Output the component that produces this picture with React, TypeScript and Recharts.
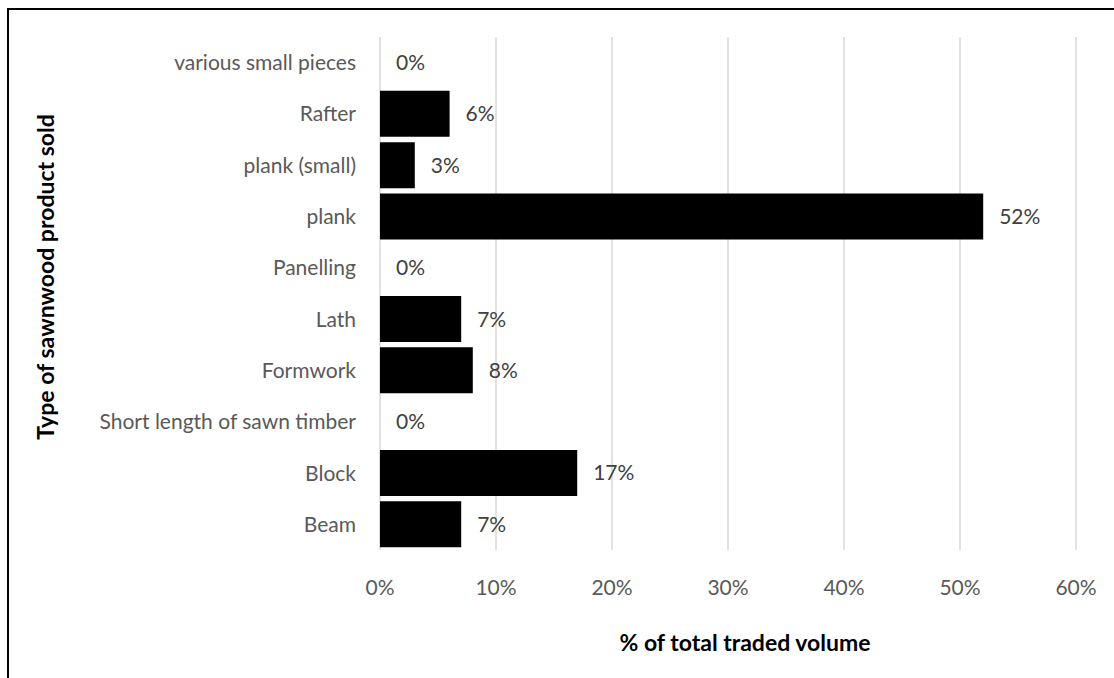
import { BarChart, Bar, XAxis, YAxis, CartesianGrid, LabelList } from "recharts";

const categories = [
  "various small pieces",
  "Rafter",
  "plank (small)",
  "plank",
  "Panelling",
  "Lath",
  "Formwork",
  "Short length of sawn timber",
  "Block",
  "Beam",
];
const shares = [0, 6, 3, 52, 0, 7, 8, 0, 17, 7];
const xTicks = [0, 10, 20, 30, 40, 50, 60];

const FONT = "Lato, 'Open Sans', sans-serif";

export default function App() {
  const data = categories.map((name, i) => ({ name, share: shares[i] }));

  return (
    <div style={{ position: "absolute", left: 0, top: 0, width: 1114, height: 678, overflow: "hidden", background: "#fff", fontFamily: FONT }}>
      <div style={{ position: "absolute", left: 7, top: 8, width: 1200, height: 800, borderLeft: "2px solid #000", borderTop: "2px solid #000" }} />
      <BarChart
        width={1114}
        height={678}
        data={data}
        layout="vertical"
        margin={{ top: 37, right: 38, bottom: 68, left: 10 }}
        barCategoryGap="5%"
      >
        <CartesianGrid horizontal={false} stroke="#d9d9d9" strokeWidth={1.5} />
        <XAxis
          type="number"
          domain={[0, 60]}
          ticks={xTicks}
          tickFormatter={(v) => `${v}%`}
          axisLine={false}
          tickLine={false}
          height={60}
          tickMargin={24}
          tick={{ fontSize: 21, fill: "#595959", fontFamily: FONT }}
        />
        <YAxis
          type="category"
          dataKey="name"
          width={370}
          axisLine={false}
          tickLine={false}
          tickMargin={18}
          interval={0}
          tick={{ fontSize: 21, fill: "#595959", fontFamily: FONT }}
        />
        <Bar dataKey="share" fill="#000" minPointSize={0.01} isAnimationActive={false}>
          <LabelList
            dataKey="share"
            position="right"
            offset={16}
            formatter={(v: number) => `${v}%`}
            style={{ fontSize: 21, fill: "#404040", fontFamily: FONT }}
          />
        </Bar>
      </BarChart>
      <div style={{ position: "absolute", left: 545, width: 400, top: 627, textAlign: "center", fontSize: 23, fontWeight: 700, color: "#000", lineHeight: "30px" }}>
        % of total traded volume
      </div>
      <div
        style={{
          position: "absolute",
          left: 45,
          top: 277,
          width: 420,
          textAlign: "center",
          fontSize: 23,
          fontWeight: 700,
          color: "#000",
          transform: "translate(-50%, -50%) rotate(-90deg)",
          lineHeight: "30px",
        }}
      >
        Type of sawnwood product sold
      </div>
    </div>
  );
}
